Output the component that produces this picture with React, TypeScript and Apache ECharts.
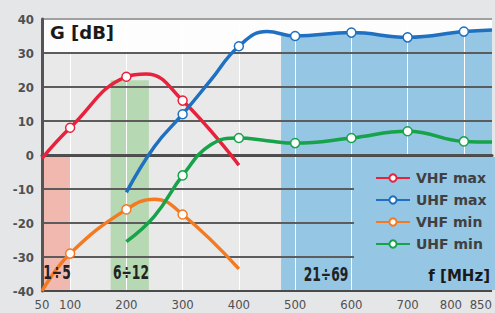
import React, { useEffect, useRef } from "react";
import * as echarts from "echarts";

// ---- data ----
const xTickLabels = [50, 100, 200, 300, 400, 500, 600, 700, 800, 850];

const vhfMaxF = [50, 100, 200, 235, 300, 400];
const vhfMaxG = [-1, 8, 23, 23.8, 16, -3];
const vhfMaxMarks = [100, 200, 300];

const uhfMaxF = [200, 250, 300, 350, 400, 450, 500, 600, 700, 800, 850];
const uhfMaxG = [-11, 2.5, 12, 22, 32, 36.3, 35, 36, 34.6, 36.3, 36.8];
const uhfMaxMarks = [300, 400, 500, 600, 700, 800];

const vhfMinF = [50, 100, 200, 250, 300, 400];
const vhfMinG = [-40, -29, -16, -13, -17.5, -33.5];
const vhfMinMarks = [100, 200, 300];

const uhfMinF = [200, 250, 300, 350, 400, 450, 500, 600, 700, 800, 850];
const uhfMinG = [-25.5, -18, -6, 3, 5, 4.2, 3.5, 5, 7, 4, 3.8];
const uhfMinMarks = [300, 400, 500, 600, 700, 800];

// frequency bands [from, to, bottom, top]
const bandVhfI = [50, 100, -40, 0];
const bandVhfIII = [172, 240, -40, 22];
const bandUhfStart = 475;
const bandUhfStartG = 35.6;
const bandLabels = ["1÷5", "6÷12", "21÷69"];

const seriesNames = ["VHF max", "UHF max", "VHF min", "UHF min"];
const seriesColors = ["#e8213c", "#1f70c0", "#f47a22", "#16a34a"];

const NARROW = '"Liberation Sans Narrow", "DejaVu Sans Condensed", "Roboto Condensed", sans-serif';

function buildLine(f: number[], g: number[], marks: number[]) {
  return f.map((x, i) =>
    marks.includes(x) ? { value: [x, g[i]] } : { value: [x, g[i]], symbol: "none" }
  );
}

export default function App() {
  const ref = useRef<HTMLDivElement>(null);

  useEffect(() => {
    if (!ref.current) return;
    const chart = echarts.init(ref.current, undefined, { renderer: "svg" });

    const lineData = [
      buildLine(vhfMaxF, vhfMaxG, vhfMaxMarks),
      buildLine(uhfMaxF, uhfMaxG, uhfMaxMarks),
      buildLine(vhfMinF, vhfMinG, vhfMinMarks),
      buildLine(uhfMinF, uhfMinG, uhfMinMarks),
    ];

    const uhfBandData = [[bandUhfStart, bandUhfStartG]].concat(
      uhfMaxF.map((x, i) => [x, uhfMaxG[i]]).filter((p) => p[0] > bandUhfStart)
    );

    const blue = "#95c6e4";

    const bandText = (text: string, x: number, y: number) => ({
      type: "text",
      x,
      y,
      scaleX: 0.72,
      z: 7,
      style: {
        text,
        fill: "#222",
        font: "bold 19px " + NARROW,
        textAlign: "center",
        textVerticalAlign: "middle",
      },
    });

    const option: any = {
      animation: false,
      backgroundColor: "#e5e6e7",
      grid: {
        left: 42,
        right: 0,
        top: 19,
        bottom: 22,
        show: true,
        backgroundColor: "#e9e9ea",
        borderWidth: 0,
      },
      xAxis: {
        type: "value",
        min: 50,
        max: 850,
        interval: 50,
        z: 3,
        axisLine: { show: true, lineStyle: { color: "#4a4a4a", width: 3 } },
        axisTick: { show: false },
        splitLine: {
          show: true,
          lineStyle: { color: ["rgba(0,0,0,0)", "#ffffff"], width: 1 },
        },
        axisLabel: {
          margin: 7,
          fontSize: 13,
          color: "#505050",
          fontFamily: NARROW,
          alignMaxLabel: "right",
          formatter: (v: number) =>
            xTickLabels.includes(v) ? (v === 800 ? "{s|800}" : String(v)) : "",
          rich: { s: { fontSize: 13, color: "#505050", fontFamily: NARROW, padding: [0, 26, 0, 0] } },
        },
      },
      yAxis: {
        type: "value",
        min: -40,
        max: 40,
        interval: 10,
        z: 4,
        axisLine: { show: true, lineStyle: { color: "#555555", width: 3 } },
        axisTick: { show: false },
        splitLine: {
          show: true,
          lineStyle: {
            color: ["#4a4a4a", "#5c5c5c", "#5c5c5c", "#5c5c5c", "#4f4f4f", "#5c5c5c", "#5c5c5c", "#5c5c5c", "#a0a0a0"],
            width: 2,
          },
        },
        axisLabel: {
          margin: 8,
          fontSize: 13,
          color: "#505050",
          fontFamily: NARROW,
          fontWeight: "bold",
        },
      },
      legend: {
        data: seriesNames,
        orient: "vertical",
        left: 370,
        top: 166,
        itemWidth: 34,
        itemHeight: 9,
        itemGap: 8,
        z: 7,
        textStyle: {
          fontSize: 14,
          fontWeight: "bold",
          color: "#404040",
          fontFamily: "DejaVu Sans",
          padding: [0, 0, 0, 1],
        },
      },
      graphic: {
        elements: [
          {
            type: "rect",
            x: 354,
            y: 157,
            shape: { width: 141, height: 133 },
            style: { fill: blue },
            z: 5,
            silent: true,
          },
          {
            type: "text",
            x: 50,
            y: 32,
            z: 7,
            style: {
              text: "G [dB]",
              fill: "#1a1a1a",
              font: 'bold 18px "DejaVu Sans"',
              textVerticalAlign: "middle",
            },
          },
          {
            type: "text",
            x: 490,
            y: 276,
            z: 7,
            style: {
              text: "f [MHz]",
              fill: "#1a1a1a",
              font: 'bold 15px "DejaVu Sans"',
              textAlign: "right",
              textVerticalAlign: "middle",
            },
          },
          bandText(bandLabels[0], 57, 273),
          bandText(bandLabels[1], 131, 273),
          bandText(bandLabels[2], 326, 275),
        ],
      },
      series: [
        {
          name: "stripe",
          type: "line",
          data: [],
          z: 1,
          silent: true,
          markArea: {
            silent: true,
            itemStyle: { color: "#fdfdfd" },
            data: [[{ coord: [50, 30] }, { coord: [850, 40] }]],
          },
        },
        {
          name: "bands",
          type: "line",
          data: [],
          z: 2,
          silent: true,
          markArea: {
            silent: true,
            data: [
              [
                { coord: [bandVhfI[0], bandVhfI[2]], itemStyle: { color: "#f1b8b0" } },
                { coord: [bandVhfI[1], bandVhfI[3]] },
              ],
              [
                { coord: [bandVhfIII[0], bandVhfIII[2]], itemStyle: { color: "#b6d8b2" } },
                { coord: [bandVhfIII[1], bandVhfIII[3]] },
              ],
            ],
          },
        },
        {
          name: "uhfBand",
          type: "line",
          data: uhfBandData,
          smooth: 0.4,
          symbol: "none",
          z: 2,
          silent: true,
          lineStyle: { width: 0, color: blue },
          areaStyle: { color: blue, opacity: 1, origin: "start" },
        },
        ...seriesNames.map((name, i) => ({
          name,
          type: "line",
          data: lineData[i],
          smooth: 0.45,
          symbol: "circle",
          symbolSize: 9,
          showAllSymbol: true,
          z: 6,
          lineStyle: { color: seriesColors[i], width: 3.5 },
          itemStyle: { color: "#ffffff", borderColor: seriesColors[i], borderWidth: 1.5 },
        })),
      ],
    };

    chart.setOption(option);
    return () => chart.dispose();
  }, []);

  return (
    <div
      ref={ref}
      style={{ position: "fixed", left: 0, top: 0, width: 495, height: 313 }}
    />
  );
}
